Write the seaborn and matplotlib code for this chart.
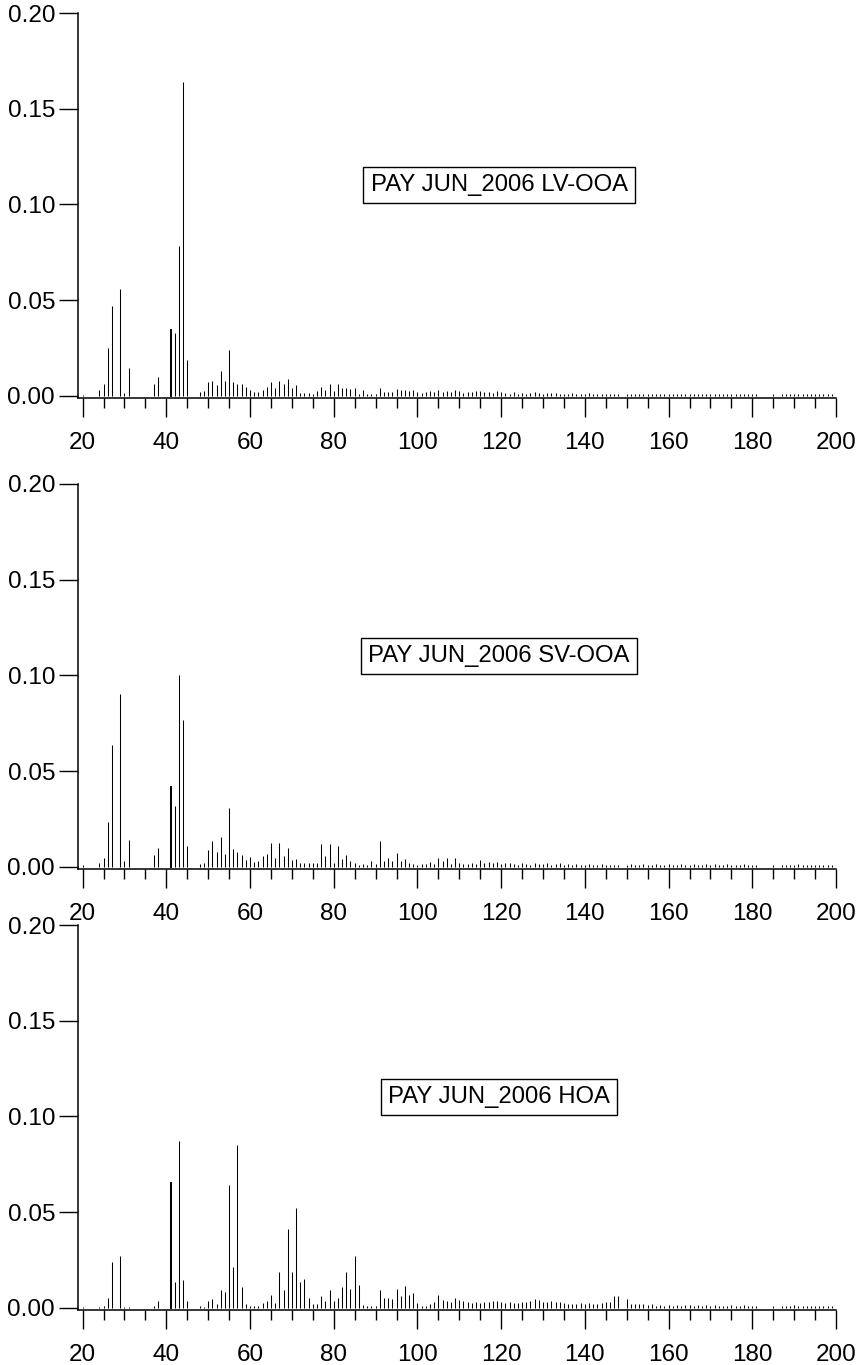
import matplotlib
matplotlib.use("Agg")
import matplotlib.pyplot as plt
import pandas as pd
import seaborn as sns
from matplotlib.ticker import MultipleLocator, FormatStrFormatter

# m/z axis (20..200)
mz = list(range(20, 201))

# PAY JUN_2006 LV-OOA
lv_ooa = [
    0.0007, 0, 0, 0, 0.003, 0.0064, 0.025, 0.047, 0, 0.056,            # 20-29
    0.0015, 0.0144, 0, 0, 0, 0, 0, 0.0064, 0.0097, 0,                  # 30-39
    0, 0.035, 0.033, 0.0785, 0.164, 0.019, 0, 0, 0.002, 0.0024,        # 40-49
    0.007, 0.008, 0.0055, 0.0128, 0.008, 0.024, 0.007, 0.006, 0.0064, 0.0047,  # 50-59
    0.003, 0.002, 0.002, 0.003, 0.0047, 0.007, 0.004, 0.008, 0.0064, 0.0087,   # 60-69
    0.004, 0.0055, 0.0017, 0.0017, 0.0017, 0.001, 0.0026, 0.0047, 0.003, 0.0064,  # 70-79
    0.0026, 0.0064, 0.004, 0.004, 0.0035, 0.004, 0.001, 0.003, 0.001, 0.001,   # 80-89
    0.001, 0.004, 0.002, 0.002, 0.002, 0.0038, 0.003, 0.003, 0.0025, 0.003,    # 90-99
    0.002, 0.0015, 0.002, 0.0025, 0.0018, 0.003, 0.002, 0.0028, 0.0022, 0.003, # 100-109
    0.0025, 0.0015, 0.002, 0.0018, 0.0025, 0.0028, 0.002, 0.0022, 0.0015, 0.0025,  # 110-119
    0.0018, 0.0015, 0.0012, 0.0018, 0.0012, 0.0015, 0.0012, 0.0015, 0.0018, 0.0015,  # 120-129
    0.0012, 0.0015, 0.0013, 0.0015, 0.0012, 0.001, 0.0012, 0.0015, 0.001, 0.0012,  # 130-139
    0.001, 0.0015, 0.0012, 0.001, 0.0012, 0.001, 0.0009, 0.0008, 0.0008, 0,      # 140-149
    0.0012, 0.001, 0.0012, 0.0008, 0.0012, 0.001, 0.0008, 0.001, 0.0009, 0.0008,  # 150-159
    0.001, 0.0008, 0.0009, 0.0008, 0.001, 0.0008, 0.0009, 0.0008, 0.0008, 0.0009,  # 160-169
    0.0008, 0.0009, 0.0008, 0.0008, 0.0009, 0.0008, 0.0008, 0.0009, 0.0008, 0.0008,  # 170-179
    0.0008, 0.0008, 0, 0, 0, 0.001, 0, 0.0008, 0.0008, 0.0009,          # 180-189
    0.0008, 0.0008, 0.0009, 0.0008, 0.0008, 0.0008, 0.0008, 0.0008, 0.0008, 0.0008,  # 190-199
    0.0008,                                                              # 200
]

# PAY JUN_2006 SV-OOA
sv_ooa = [
    0.0009, 0, 0, 0, 0.002, 0.0046, 0.0237, 0.0636, 0, 0.0905,
    0.003, 0.0143, 0, 0, 0, 0, 0, 0.0064, 0.010, 0,
    0, 0.042, 0.0318, 0.100, 0.0765, 0.011, 0, 0, 0.0014, 0.002,
    0.0086, 0.0134, 0.0079, 0.0158, 0.0069, 0.0306, 0.0093, 0.0077, 0.006, 0.0038,
    0.0053, 0.0026, 0.003, 0.0055, 0.0069, 0.0125, 0.0046, 0.0125, 0.0057, 0.010,
    0.0038, 0.004, 0.002, 0.002, 0.002, 0.002, 0.002, 0.0119, 0.0055, 0.0119,
    0.002, 0.011, 0.004, 0.0062, 0.003, 0.002, 0.0009, 0.0017, 0.001, 0.003,
    0.0014, 0.0134, 0.003, 0.0046, 0.003, 0.007, 0.003, 0.004, 0.002, 0.0017,
    0.001, 0.0014, 0.0014, 0.0026, 0.0014, 0.0046, 0.003, 0.0046, 0.0017, 0.0046,
    0.002, 0.0017, 0.0014, 0.0022, 0.0015, 0.0035, 0.002, 0.0025, 0.0018, 0.0025,
    0.0015, 0.0022, 0.0018, 0.0015, 0.0012, 0.0018, 0.0015, 0.0012, 0.0018, 0.0015,
    0.0015, 0.0018, 0.0012, 0.0015, 0.0018, 0.0012, 0.0015, 0.0012, 0.0015, 0.0012,
    0.0012, 0.0015, 0.0012, 0.001, 0.0015, 0.0012, 0.001, 0.0012, 0.001, 0,
    0.0012, 0.0015, 0.0012, 0.001, 0.0015, 0.0012, 0.001, 0.0015, 0.0012, 0.001,
    0.0015, 0.0012, 0.001, 0.0015, 0.0012, 0.0012, 0.0015, 0.001, 0.0012, 0.0015,
    0.001, 0.0015, 0.0012, 0.001, 0.0015, 0.0012, 0.001, 0.0012, 0.0015, 0.001,
    0.0012, 0.001, 0, 0, 0, 0.001, 0, 0.0009, 0.0009, 0.0012,
    0.001, 0.0014, 0.0009, 0.0009, 0.001, 0.0009, 0.0009, 0.0009, 0.0009, 0.001,
    0.0009,
]

# PAY JUN_2006 HOA
hoa = [
    0.0005, 0, 0, 0, 0.0005, 0.0012, 0.0053, 0.0238, 0, 0.0269,
    0.0005, 0.0005, 0, 0, 0, 0, 0, 0.0012, 0.0036, 0,
    0, 0.066, 0.0133, 0.087, 0.0148, 0.0036, 0, 0, 0.0012, 0.0005,
    0.0036, 0.0045, 0.0019, 0.0091, 0.0083, 0.0643, 0.0212, 0.0853, 0.0107, 0.0019,
    0.0012, 0.0012, 0.0012, 0.0028, 0.0036, 0.0067, 0.0028, 0.0188, 0.0091, 0.0412,
    0.0188, 0.0522, 0.0133, 0.0153, 0.0052, 0.0021, 0.0021, 0.006, 0.0036, 0.0091,
    0.0036, 0.0052, 0.0107, 0.0188, 0.010, 0.0269, 0.0122, 0.0016, 0.0012, 0.0012,
    0.0012, 0.0091, 0.0052, 0.0052, 0.0045, 0.010, 0.006, 0.0114, 0.0067, 0.0076,
    0.0028, 0.0012, 0.0012, 0.0019, 0.0029, 0.0066, 0.0043, 0.0036, 0.0030, 0.005,
    0.0042, 0.0036, 0.0030, 0.0028, 0.0030, 0.0026, 0.0030, 0.0032, 0.0035, 0.0035,
    0.0030, 0.0024, 0.0030, 0.0026, 0.0026, 0.0030, 0.0032, 0.0035, 0.0045, 0.0042,
    0.0032, 0.0030, 0.0035, 0.0032, 0.0032, 0.0026, 0.0022, 0.0022, 0.0022, 0.0026,
    0.0022, 0.0026, 0.0022, 0.0022, 0.0026, 0.0032, 0.0030, 0.006, 0.006, 0,
    0.0046, 0.0022, 0.0022, 0.0018, 0.0022, 0.0015, 0.0018, 0.0012, 0.0015, 0.0012,
    0.0015, 0.0012, 0.0015, 0.0012, 0.0015, 0.0015, 0.0012, 0.0015, 0.0012, 0.0015,
    0.0012, 0.0015, 0.0012, 0.0009, 0.0012, 0.0015, 0.0012, 0.0012, 0.0015, 0.0012,
    0.0012, 0.0009, 0, 0, 0, 0.0012, 0, 0.0009, 0.0012, 0.0012,
    0.0015, 0.0012, 0.0012, 0.0009, 0.0012, 0.0009, 0.0009, 0.0012, 0.0009, 0.0009,
    0.0009,
]

panel_labels = ["PAY JUN_2006 LV-OOA", "PAY JUN_2006 SV-OOA", "PAY JUN_2006 HOA"]
x_ticks = [20, 40, 60, 80, 100, 120, 140, 160, 180, 200]
y_ticks = [0.00, 0.05, 0.10, 0.15, 0.20]

sns.set_style("ticks")
plt.rcParams["font.family"] = ["Liberation Sans", "DejaVu Sans"]

W, H = 858, 1365
fig = plt.figure(figsize=(W / 100, H / 100), dpi=100)

# axes boxes in pixels: (left, top, right, bottom)
boxes = [(78, 13, 836, 398), (78, 484, 836, 869), (78, 925, 836, 1310)]

for (l, t, r, b), vals, lab in zip(boxes, [lv_ooa, sv_ooa, hoa], panel_labels):
    ax = fig.add_axes([l / W, 1 - b / H, (r - l) / W, (b - t) / H])
    df = pd.DataFrame({"mz": mz, "val": vals})
    df = df[df["val"] > 0]
    sns.barplot(data=df, x="mz", y="val", native_scale=True, orient="x",
                color="black", saturation=1, width=0.001, errorbar=None,
                edgecolor="black", linewidth=0.75, ax=ax)
    ax.set_xlim(18.9, 200)
    ax.set_ylim(-0.0011, 0.20)
    ax.set_xticks(x_ticks)
    ax.xaxis.set_minor_locator(MultipleLocator(5))
    ax.set_yticks(y_ticks)
    ax.yaxis.set_major_formatter(FormatStrFormatter("%.2f"))
    ax.set_xlabel("")
    ax.set_ylabel("")
    for s in ["top", "right"]:
        ax.spines[s].set_visible(False)
    for s in ["left", "bottom"]:
        ax.spines[s].set_linewidth(1.1)
        ax.spines[s].set_color("black")
    ax.tick_params(axis="y", direction="out", length=14, width=1.0, pad=2.5,
                   labelsize=17.5, colors="black")
    ax.tick_params(axis="x", which="major", direction="out", length=13.7,
                   width=1.0, pad=10.5, labelsize=17.5, colors="black")
    ax.tick_params(axis="x", which="minor", direction="out", length=7.2,
                   width=1.0, colors="black")
    ax.patch.set_alpha(0)
    ax.text(119.5, 0.110, lab, ha="center", va="center", fontsize=17.2,
            color="black",
            bbox=dict(boxstyle="square,pad=0.3", fc="white", ec="black", lw=1.0))

fig.savefig("out.png", dpi=100)
